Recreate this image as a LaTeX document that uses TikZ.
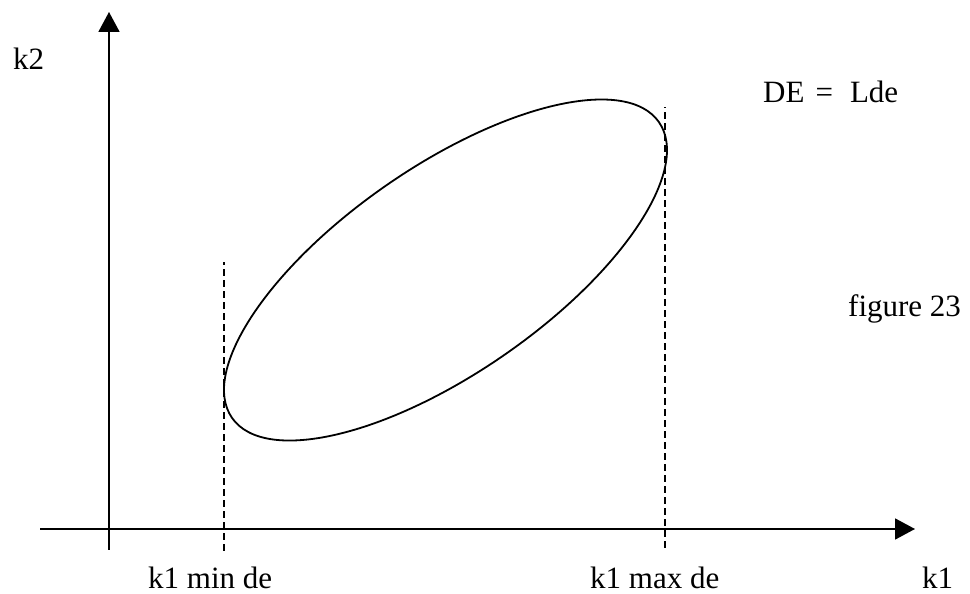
\documentclass[tikz,border=0pt]{standalone}
\usepackage{fontspec}
\setmainfont{Liberation Serif}
\usetikzlibrary{arrows.meta}
\begin{document}
\begin{tikzpicture}[x=1pt,y=1pt,
  axis/.style={line width=1.8pt,-{Triangle[length=20pt,width=21pt]}},
  guide/.style={line width=1.8pt,dash pattern=on 7pt off 4pt},
  curve/.style={line width=1.8pt},
  lbl/.style={anchor=base west,inner sep=0pt,font=\fontsize{31}{36}\selectfont}]
\useasboundingbox (0,0) rectangle (970,594);
% axes
\coordinate (xs) at (40,65);
\coordinate (xe) at (915,65);
\coordinate (ys) at (109,44);
\coordinate (ye) at (109,582);
\draw[axis] (xs) -- (xe);
\draw[axis] (ys) -- (ye);
% dashed guides
\coordinate (d1a) at (224,43);
\coordinate (d1b) at (224,332);
\coordinate (d2a) at (665,46);
\coordinate (d2b) at (665,487);
\draw[guide] (d1a) -- (d1b);
\draw[guide] (d2a) -- (d2b);
% ellipse
\coordinate (c) at (445.5,324);
\draw[curve,rotate around={34.7:(c)}] (c) ellipse (259.7 and 103.3);
% labels
\node[lbl] (k2) at (13,524) {k2};
\node[lbl] (de) at (763,491) {DE\hspace{11pt}=\hspace{17pt}Lde};
\node[lbl] (fig) at (848,277) {figure 23};
\node[lbl] (kmin) at (148,5) {k1 min de};
\node[lbl] (kmax) at (590,5) {k1 max de};
\node[lbl] (k1) at (922,5) {k1};
\end{tikzpicture}
\end{document}
